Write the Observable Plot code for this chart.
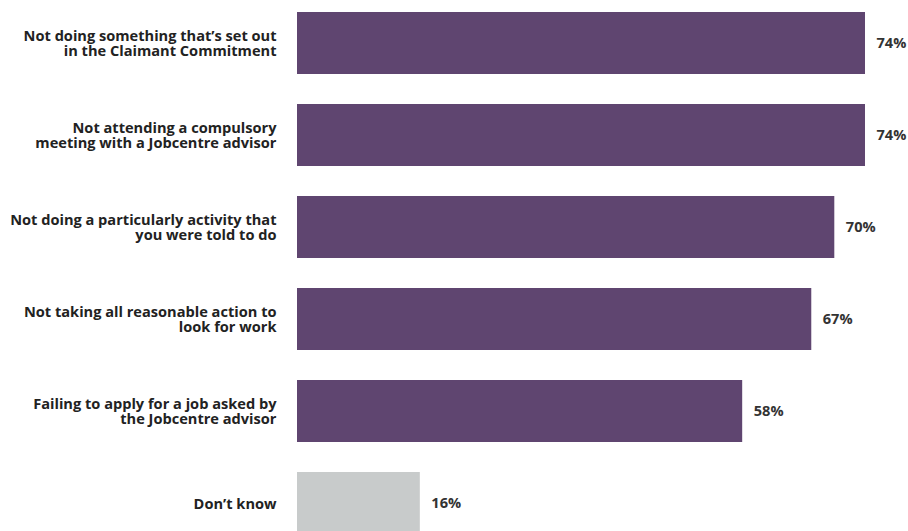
<!DOCTYPE html>
<html>
<head>
<meta charset="utf-8">
<script src="https://cdn.jsdelivr.net/npm/d3@7"></script>
<script src="https://cdn.jsdelivr.net/npm/@observablehq/plot@0.6"></script>
<style>
html, body { margin: 0; padding: 0; background: #fff; overflow: hidden; }
</style>
</head>
<body>
<div id="chart"></div>
<script>
const categories = [
  "Not doing something that\u2019s set out\nin the Claimant Commitment",
  "Not attending a compulsory\nmeeting with a Jobcentre advisor",
  "Not doing a particularly activity that\nyou were told to do",
  "Not taking all reasonable action to\nlook for work",
  "Failing to apply for a job asked by\nthe Jobcentre advisor",
  "Don\u2019t know"
];
const values = [74, 74, 70, 67, 58, 16];
const groups = ["reason", "reason", "reason", "reason", "reason", "dontknow"];

const data = categories.map((c, i) => ({category: c, value: values[i], group: groups[i]}));

const chart = Plot.plot({
  width: 908,
  height: 535,
  marginLeft: 297,
  marginRight: 43,
  marginTop: 11,
  marginBottom: 0,
  x: {domain: [0, 74], axis: null},
  y: {domain: categories, padding: 0.33, paddingOuter: 0, axis: null},
  color: {domain: ["reason", "dontknow"], range: ["#5f4570", "#c8cbcb"]},
  style: {fontFamily: "'Open Sans', sans-serif"},
  marks: [
    Plot.barX(data, {x: "value", y: "category", fill: "group"}),
    Plot.text(data, {
      x: 0, y: "category", text: "category",
      textAnchor: "end", dx: -21, lineHeight: 1.07,
      fontSize: 14.6, fontWeight: 700, fill: "#222"
    }),
    Plot.text(data, {
      x: "value", y: "category", text: d => d.value + "%",
      textAnchor: "start", dx: 11,
      fontSize: 14.6, fontWeight: 700, fill: "#333"
    })
  ]
});
document.getElementById("chart").appendChild(chart);
</script>
</body>
</html>
